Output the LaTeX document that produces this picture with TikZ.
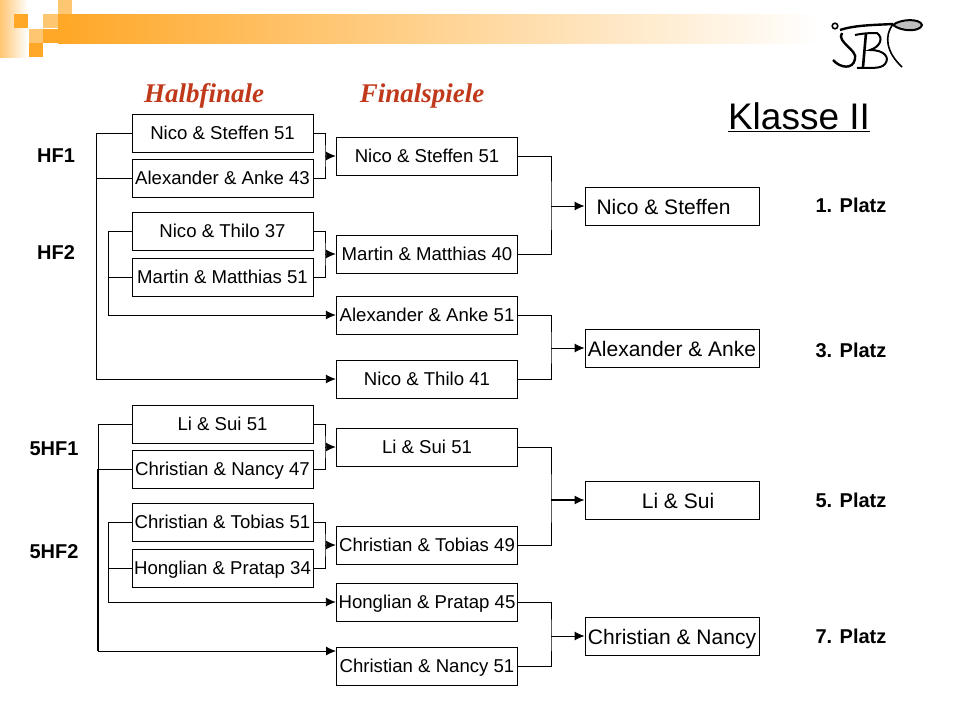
\documentclass[tikz,border=0pt]{standalone}
\usepackage{fontspec}
\setmainfont{Liberation Sans}
\newfontfamily\headfont{Liberation Serif}
\usetikzlibrary{arrows.meta}
\definecolor{bannerorange}{HTML}{FFA726}
\definecolor{bannermid}{HTML}{FFC594}
\definecolor{paleorange}{HTML}{FFC672}
\definecolor{headred}{HTML}{C0391B}

\begin{document}
\begin{tikzpicture}[
	x=1pt, y=-1pt,
	match/.style={draw, line width=0.9pt, minimum height=38pt, inner sep=0pt, text depth=4pt},
	semi/.style={match, minimum width=181pt, text height=17pt, font=\fontsize{18.6}{20}\selectfont},
	final/.style={match, minimum width=181.5pt, text height=17pt, font=\fontsize{18.6}{20}\selectfont},
	place/.style={match, minimum width=174pt, text height=21pt, font=\fontsize{21}{23}\selectfont},
	group/.style={font=\fontsize{20}{22}\selectfont\bfseries},
	head/.style={font=\fontsize{27}{29}\selectfont\headfont\bfseries\itshape, text=headred},
	line/.style={line width=0.9pt},
	arrow/.style={line, -{Latex[length=10pt,width=9pt]}}
]
	\useasboundingbox (0,0) rectangle (960,720);

	% banner
	\shade[left color=bannerorange, middle color=bannermid, right color=white] (58,14) rectangle (820,43);
	\shade[left color=paleorange, right color=white] (0,0) rectangle (28,57);
	\fill[bannerorange] (14,14) rectangle (28,28);
	\fill[paleorange] (43,14) rectangle (58,28);
	\fill[paleorange] (58,0) rectangle (72,14);
	\fill[paleorange] (29,29) rectangle (43,43);
	\fill[bannerorange] (43,29) rectangle (72,43);
	\fill[bannerorange] (29,43) rectangle (43,57);

	% logo
	\draw[line width=2.4pt] (840,30) .. controls (855,25) and (875,25) .. (893,24);
	\draw[line width=2.4pt] (842,33) .. controls (836,42) and (858,50) .. (855,59) .. controls (853,70) and (840,68) .. (833,60);
	\draw[line width=2pt] (855,35) .. controls (865,33) and (872,33) .. (877,33) .. controls (884,38) and (880,47) .. (870,50) .. controls (885,50) and (890,58) .. (885,64) .. controls (880,70) and (868,67) .. (857,68);
	\draw[line width=2.6pt] (866,33) -- (863,67);
	\draw[line width=1.6pt] (893,24) .. controls (884,36) and (886,52) .. (902,67);
	\draw[line width=2pt, fill=gray!50] (893,25) .. controls (900,19) and (920,18) .. (922,25) .. controls (920,32) and (902,32) .. (893,25);
	\draw[line width=1.6pt] (835,26) circle (2.8pt);

	% titles
	\node[head] (halb) at (204,96) {Halbfinale};
	\node[head] (fin) at (422,96) {Finalspiele};
	\node[font=\fontsize{37}{39}\selectfont] (klasse) at (799,117) {\underline{Klasse II}};

	% halbfinale
	\node[semi] (ns) at (222.5,133) {Nico \& Steffen 51};
	\node[semi] (aa) at (222.5,178) {Alexander \& Anke 43};
	\node[semi] (nt) at (222.5,231) {Nico \& Thilo 37};
	\node[semi] (mm) at (222.5,277) {Martin \& Matthias 51};
	\node[semi] (ls) at (222.5,424) {Li \& Sui 51};
	\node[semi] (cn) at (222.5,469) {Christian \& Nancy 47};
	\node[semi] (ct) at (222.5,522) {Christian \& Tobias 51};
	\node[semi] (hp) at (222.5,568) {Honglian \& Pratap 34};

	% finalspiele
	\node[final] (fns) at (427,156) {Nico \& Steffen 51};
	\node[final] (fmm) at (427,254) {Martin \& Matthias 40};
	\node[final] (faa) at (427,315) {Alexander \& Anke 51};
	\node[final] (fnt) at (427,379) {Nico \& Thilo 41};
	\node[final] (fls) at (427,447) {Li \& Sui 51};
	\node[final] (fct) at (427,545) {Christian \& Tobias 49};
	\node[final] (fhp) at (427,602) {Honglian \& Pratap 45};
	\node[final] (fcn) at (427,666) {Christian \& Nancy 51};

	% plaetze
	\node[place] (p1) at (672,206) {\hspace*{-17pt}Nico \& Steffen};
	\node[place] (p3) at (672,348) {Alexander \& Anke};
	\node[place] (p5) at (672,500) {\hspace*{12pt}Li \& Sui};
	\node[place] (p7) at (672,636) {Christian \& Nancy};

	\node[group] (hf1) at (56,156) {HF1};
	\node[group] (hf2) at (56,253) {HF2};
	\node[group] (hf3) at (54,449) {5HF1};
	\node[group] (hf4) at (54,552) {5HF2};
	\node[group] (l1) at (851,205) {1. Platz};
	\node[group] (l3) at (851,350) {3. Platz};
	\node[group] (l5) at (851,500) {5. Platz};
	\node[group] (l7) at (851,636) {7. Platz};

	% schienen links
	\coordinate (ra) at (96,0);
	\coordinate (rb) at (108,0);
	\coordinate (rc) at (98,0);
	\coordinate (cnin) at (336,651);
	\draw[arrow] (ns.west) -- (ns.west -| ra) |- (fnt.west);
	\draw[line] (aa.west) -- (aa.west -| ra);
	\draw[arrow] (nt.west) -- (nt.west -| rb) |- (faa.west);
	\draw[line] (mm.west) -- (mm.west -| rb);
	\draw[arrow] (ls.west) -- (ls.west -| rc) |- (cnin);
	\draw[line] (cn.west) -- (cn.west -| rc);
	\draw[line width=1.6pt] (cn.west -| rc) -- (cnin -| rc);
	\draw[arrow] (ct.west) -- (ct.west -| rb) |- (fhp.west);
	\draw[line] (hp.west) -- (hp.west -| rb);

	% halbfinale nach finale
	\coordinate (ja) at (325,156);
	\coordinate (jb) at (325,254);
	\coordinate (jc) at (325,447);
	\coordinate (jd) at (325,545);
	\draw[line] (ns.east) -| (ja) |- (aa.east);
	\draw[arrow] (ja) -- (fns.west);
	\draw[line] (nt.east) -| (jb) |- (mm.east);
	\draw[arrow] (jb) -- (fmm.west);
	\draw[line] (ls.east) -| (jc) |- (cn.east);
	\draw[arrow] (jc) -- (fls.west);
	\draw[line] (ct.east) -| (jd) |- (hp.east);
	\draw[arrow] (jd) -- (fct.west);

	% finale nach platz
	\coordinate (ka) at (551,206);
	\coordinate (kb) at (551,348);
	\coordinate (kc) at (551,500);
	\coordinate (kd) at (551,636);
	\draw[line] (fns.east) -| (ka) |- (fmm.east);
	\draw[arrow] (ka) -- (p1.west);
	\draw[line] (faa.east) -| (kb) |- (fnt.east);
	\draw[arrow] (kb) -- (p3.west);
	\draw[line] (fls.east) -| (kc) |- (fct.east);
	\draw[arrow, line width=1.4pt] (kc) -- (p5.west);
	\draw[line] (fhp.east) -| (kd) |- (fcn.east);
	\draw[arrow] (kd) -- (p7.west);
\end{tikzpicture}
\end{document}
